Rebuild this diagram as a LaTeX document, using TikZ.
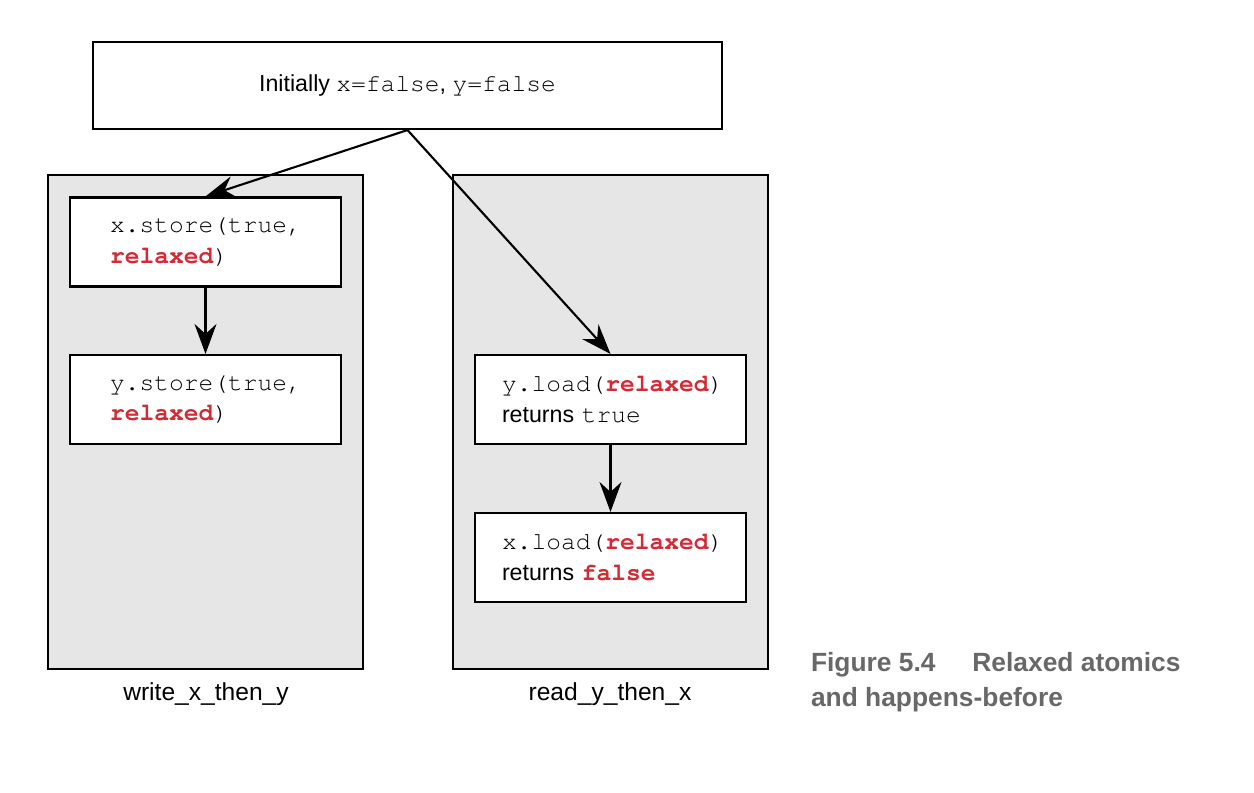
\documentclass[tikz,border=0pt]{standalone}
\usepackage{fontspec}
\setmainfont{Liberation Sans}
\setmonofont{TeX Gyre Cursor}[Scale=1.06]
\usetikzlibrary{arrows.meta}
\definecolor{panelgray}{HTML}{E6E6E6}
\definecolor{kwred}{HTML}{D42A34}
\definecolor{capgray}{HTML}{686868}
\newcommand{\kw}[1]{\textcolor{kwred}{\textbf{\texttt{#1}}}}
\begin{document}
\begin{tikzpicture}[line width=1.2pt,
  every node/.style={font=\fontsize{13.2}{17.5}\selectfont},
  opbox/.style={draw, fill=white, minimum width=5.42cm, minimum height=1.78cm, align=left},
  lbox/.style={opbox, text width=3.82cm, inner xsep=0.8cm},
  rbox/.style={opbox, text width=4.34cm, inner xsep=0.54cm},
  thread/.style={font=\fontsize{14}{17}\selectfont},
  flow/.style={-{Stealth[length=0.6cm,width=0.44cm,inset=0.2cm]}}]
\useasboundingbox (0,0) rectangle (25.08,-15.84);
% the two threads
\filldraw[fill=panelgray] (0.96,-3.5) rectangle (7.26,-13.38);
\filldraw[fill=panelgray] (9.06,-3.5) rectangle (15.36,-13.38);
\node[draw, fill=white, minimum width=12.58cm, minimum height=1.74cm] (init) at (8.15,-1.71) {Initially \texttt{x=false}, \texttt{y=false}};
\node[lbox] (xstore) at (4.11,-4.84) {\texttt{x.store(true,}\\\kw{relaxed}\texttt{)}};
\node[lbox] (ystore) at (4.11,-7.99) {\texttt{y.store(true,}\\\kw{relaxed}\texttt{)}};
\node[rbox] (yload) at (12.21,-7.99) {\texttt{y.load(}\kw{relaxed}\texttt{)}\\returns \texttt{true}};
\node[rbox] (xload) at (12.21,-11.15) {\texttt{x.load(}\kw{relaxed}\texttt{)}\\returns \kw{false}};
\node[thread] (wlabel) at (4.12,-13.88) {write\_x\_then\_y};
\node[thread] (rlabel) at (12.2,-13.88) {read\_y\_then\_x};
% happens-before arrows
\draw[flow] (init.south) -- (xstore.north);
\draw[flow] (init.south) -- (yload.north);
\draw[flow] (xstore) -- (ystore);
\draw[flow] (yload) -- (xload);
\node[anchor=base west, align=left, inner sep=0pt, text=capgray, font=\fontsize{15}{19.4}\selectfont\bfseries] (caption) at (16.2,-14.12) {Figure 5.4\hspace{1.4em}Relaxed atomics\\and happens-before};
\end{tikzpicture}
\end{document}
